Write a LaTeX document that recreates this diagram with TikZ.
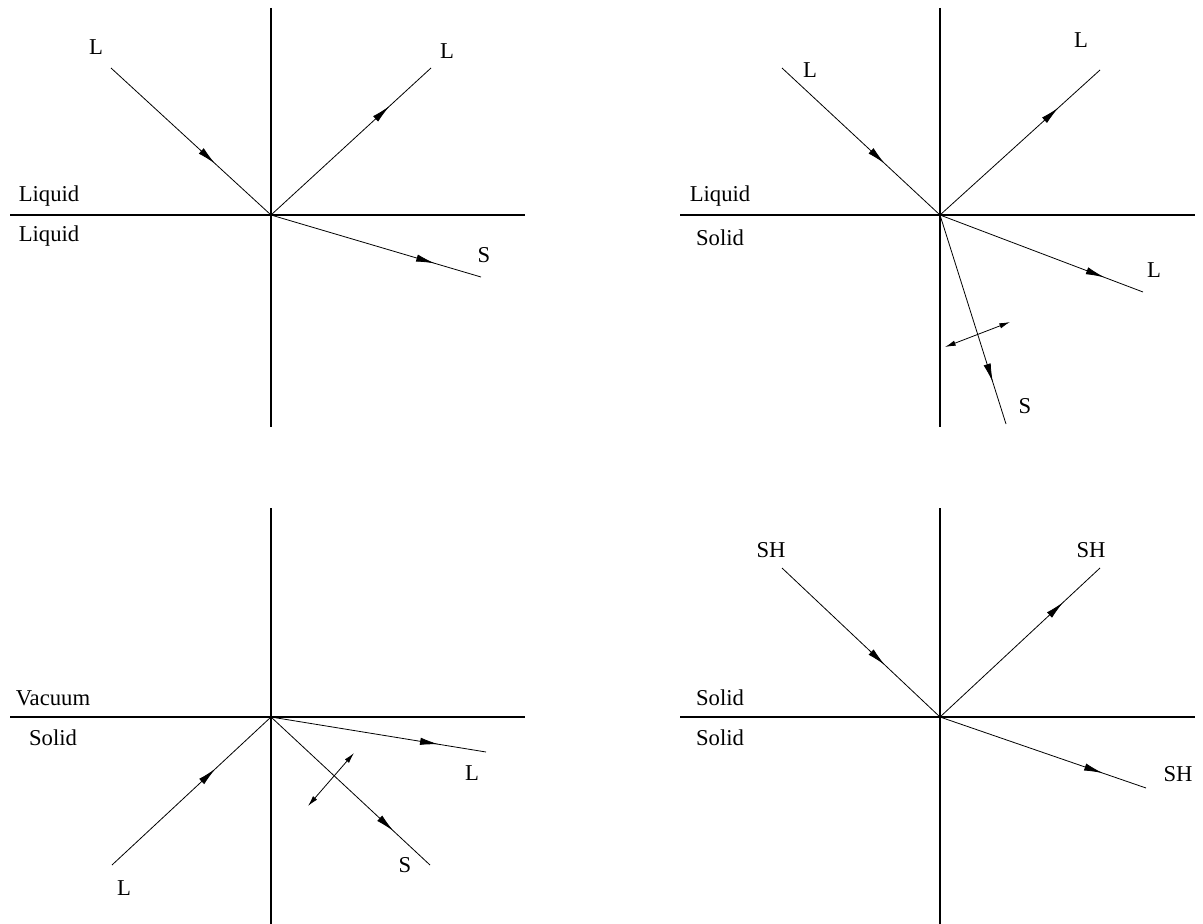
\documentclass[tikz,border=0pt]{standalone}
\usepackage{fontspec}
\setmainfont{Liberation Serif}
\usetikzlibrary{arrows.meta,decorations.markings}

\tikzset{
  axis/.style={line width=0.9pt},
  ray/.style={line width=0.6pt,postaction={decorate},
    decoration={markings,mark=at position #1 with {\arrow{Latex[length=14pt,width=5.5pt]}}}},
  pol/.style={line width=0.6pt,{Latex[length=8pt,width=4pt]}-{Latex[length=8pt,width=4pt]}},
  lab/.style={inner sep=0pt,font=\fontsize{17}{19}\selectfont}
}

\begin{document}
\begin{tikzpicture}[x=0.75pt,y=-0.75pt]
\useasboundingbox (0,0) rectangle (1203,924);
% upper left: liquid / liquid
\coordinate (o1) at (271,215);
\coordinate (i1) at (111,68);
\coordinate (r1) at (431,68);
\coordinate (t1) at (481,277);
\draw[axis] (271,8) -- (271,427);
\draw[axis] (10,215) -- (525,215);
\draw[ray=0.65] (i1) -- (o1);
\draw[ray=0.74] (o1) -- (r1);
\draw[ray=0.78] (o1) -- (t1);
\node[lab] (li1) at (96,47) {L};
\node[lab] (lr1) at (447,51) {L};
\node[lab] (ls1) at (484,255) {S};
\node[lab] (up1) at (49,196) {Liquid};
\node[lab] (dn1) at (49,236) {Liquid};
% upper right: liquid / solid
\coordinate (o2) at (940,215);
\coordinate (i2) at (782,68);
\coordinate (r2) at (1100,70);
\coordinate (t2) at (1143,292);
\coordinate (s2) at (1006,424);
\coordinate (p2a) at (945,347);
\coordinate (p2b) at (1010,322);
\draw[axis] (940,8) -- (940,427);
\draw[axis] (680,215) -- (1195,215);
\draw[ray=0.65] (i2) -- (o2);
\draw[ray=0.74] (o2) -- (r2);
\draw[ray=0.81] (o2) -- (t2);
\draw[ray=0.80] (o2) -- (s2);
\draw[pol] (p2a) -- (p2b);
\node[lab] (li2) at (810,70) {L};
\node[lab] (lr2) at (1081,40) {L};
\node[lab] (lt2) at (1154,270) {L};
\node[lab] (ls2) at (1025,406) {S};
\node[lab] (up2) at (720,196) {Liquid};
\node[lab] (dn2) at (720,238) {Solid};
% lower left: vacuum / solid
\coordinate (o3) at (271,717);
\coordinate (i3) at (112,865);
\coordinate (t3) at (486,752);
\coordinate (s3) at (430,865);
\coordinate (p3a) at (308,806);
\coordinate (p3b) at (354,753);
\draw[axis] (271,508) -- (271,924);
\draw[axis] (10,717) -- (525,717);
\draw[ray=0.65] (i3) -- (o3);
\draw[ray=0.78] (o3) -- (t3);
\draw[ray=0.77] (o3) -- (s3);
\draw[pol] (p3a) -- (p3b);
\node[lab] (li3) at (124,888) {L};
\node[lab] (lt3) at (472,773) {L};
\node[lab] (ls3) at (405,865) {S};
\node[lab] (up3) at (53,698) {Vacuum};
\node[lab] (dn3) at (53,738) {Solid};
% lower right: solid / solid
\coordinate (o4) at (940,717);
\coordinate (i4) at (782,568);
\coordinate (r4) at (1100,568);
\coordinate (t4) at (1146,788);
\draw[axis] (940,508) -- (940,924);
\draw[axis] (680,717) -- (1195,717);
\draw[ray=0.65] (i4) -- (o4);
\draw[ray=0.77] (o4) -- (r4);
\draw[ray=0.79] (o4) -- (t4);
\node[lab] (li4) at (771,550) {SH};
\node[lab] (lr4) at (1091,550) {SH};
\node[lab] (lt4) at (1178,774) {SH};
\node[lab] (up4) at (720,698) {Solid};
\node[lab] (dn4) at (720,738) {Solid};
\end{tikzpicture}
\end{document}
